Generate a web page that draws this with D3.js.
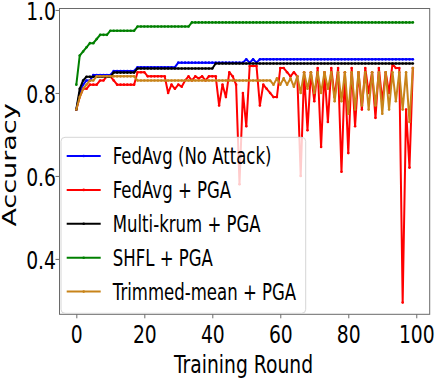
<!DOCTYPE html>
<html>
<head>
<meta charset="utf-8">
<script src="https://cdn.jsdelivr.net/npm/d3@7"></script>
<style>
  html, body { margin: 0; padding: 0; background: #fff; }
  svg { display: block; }
  text { font-family: "DejaVu Sans", sans-serif; fill: #000; }
</style>
</head>
<body>
<svg id="chart" width="436" height="381"></svg>
<script>
// ---------------- data ----------------
const rounds = d3.range(0, 100);

const seriesNames = ["FedAvg (No Attack)", "FedAvg + PGA", "Multi-krum + PGA", "SHFL + PGA", "Trimmed-mean + PGA"];
const seriesColors = ["#0000ff", "#ff0000", "#000000", "#008000", "#c8841a"];

const fedAvgNoAttack = [
  0.76, 0.80, 0.82, 0.83, 0.83, 0.843, 0.843, 0.843, 0.843, 0.843,
  0.843, 0.853, 0.853, 0.853, 0.853, 0.853, 0.853, 0.853, 0.862, 0.862,
  0.862, 0.862, 0.862, 0.862, 0.862, 0.862, 0.862, 0.862, 0.862, 0.862,
  0.873, 0.873, 0.873, 0.873, 0.873, 0.873, 0.873, 0.873, 0.873, 0.873,
  0.873, 0.873, 0.873, 0.873, 0.873, 0.873, 0.873, 0.873, 0.873, 0.873,
  0.881, 0.873, 0.881, 0.873, 0.881, 0.881, 0.881, 0.881, 0.881, 0.881,
  0.881, 0.881, 0.881, 0.881, 0.881, 0.881, 0.881, 0.881, 0.881, 0.881,
  0.881, 0.881, 0.881, 0.881, 0.881, 0.881, 0.881, 0.881, 0.881, 0.881,
  0.881, 0.881, 0.881, 0.881, 0.881, 0.881, 0.881, 0.881, 0.881, 0.881,
  0.881, 0.881, 0.881, 0.881, 0.881, 0.881, 0.881, 0.881, 0.881, 0.881
];

const fedAvgPGA = [
  0.76, 0.79, 0.81, 0.81, 0.82, 0.82, 0.82, 0.83, 0.83, 0.84,
  0.84, 0.83, 0.82, 0.82, 0.82, 0.82, 0.82, 0.82, 0.85, 0.85,
  0.85, 0.84, 0.84, 0.84, 0.84, 0.84, 0.84, 0.80, 0.82, 0.81,
  0.82, 0.815, 0.83, 0.84, 0.83, 0.84, 0.835, 0.84, 0.83, 0.84,
  0.84, 0.84, 0.77, 0.82, 0.79, 0.85, 0.84, 0.82, 0.58, 0.80,
  0.72, 0.865, 0.865, 0.865, 0.77, 0.82, 0.81, 0.80, 0.79, 0.79,
  0.86, 0.86, 0.85, 0.84, 0.85, 0.84, 0.60, 0.85, 0.71, 0.85,
  0.78, 0.86, 0.67, 0.85, 0.73, 0.86, 0.79, 0.86, 0.61, 0.85,
  0.655, 0.86, 0.72, 0.85, 0.76, 0.86, 0.80, 0.85, 0.74, 0.86,
  0.78, 0.85, 0.80, 0.87, 0.86, 0.86, 0.295, 0.76, 0.62, 0.86
];

const multiKrumPGA = [
  0.76, 0.81, 0.83, 0.839, 0.839, 0.839, 0.839, 0.839, 0.839, 0.839,
  0.839, 0.849, 0.849, 0.849, 0.849, 0.849, 0.849, 0.849, 0.859, 0.859,
  0.859, 0.859, 0.859, 0.859, 0.859, 0.859, 0.859, 0.859, 0.859, 0.859,
  0.859, 0.859, 0.859, 0.859, 0.859, 0.859, 0.859, 0.859, 0.859, 0.859,
  0.859, 0.871, 0.871, 0.871, 0.871, 0.871, 0.871, 0.871, 0.871, 0.871,
  0.871, 0.871, 0.871, 0.871, 0.871, 0.871, 0.871, 0.871, 0.871, 0.871,
  0.871, 0.871, 0.871, 0.871, 0.871, 0.871, 0.871, 0.871, 0.871, 0.871,
  0.871, 0.871, 0.871, 0.871, 0.871, 0.871, 0.871, 0.871, 0.871, 0.871,
  0.871, 0.871, 0.871, 0.871, 0.871, 0.871, 0.871, 0.871, 0.871, 0.871,
  0.871, 0.871, 0.871, 0.871, 0.871, 0.871, 0.871, 0.871, 0.871, 0.871
];

const shflPGA = [
  0.82, 0.89, 0.90, 0.91, 0.92, 0.92, 0.93, 0.94, 0.94, 0.94,
  0.95, 0.95, 0.95, 0.95, 0.95, 0.95, 0.95, 0.95, 0.96, 0.96,
  0.96, 0.96, 0.96, 0.96, 0.96, 0.96, 0.96, 0.96, 0.96, 0.96,
  0.96, 0.96, 0.96, 0.96, 0.97, 0.97, 0.97, 0.97, 0.97, 0.97,
  0.97, 0.97, 0.97, 0.97, 0.97, 0.97, 0.97, 0.97, 0.97, 0.97,
  0.97, 0.97, 0.97, 0.97, 0.97, 0.97, 0.97, 0.97, 0.97, 0.97,
  0.97, 0.97, 0.97, 0.97, 0.97, 0.97, 0.97, 0.97, 0.97, 0.97,
  0.97, 0.97, 0.97, 0.97, 0.97, 0.97, 0.97, 0.97, 0.97, 0.97,
  0.97, 0.97, 0.97, 0.97, 0.97, 0.97, 0.97, 0.97, 0.97, 0.97,
  0.97, 0.97, 0.97, 0.97, 0.97, 0.97, 0.97, 0.97, 0.97, 0.97
];

const trimmedMeanPGA = [
  0.76, 0.79, 0.81, 0.82, 0.83, 0.83, 0.84, 0.84, 0.84, 0.84,
  0.84, 0.84, 0.84, 0.84, 0.84, 0.84, 0.84, 0.84, 0.83, 0.83,
  0.83, 0.83, 0.83, 0.83, 0.83, 0.83, 0.83, 0.83, 0.83, 0.83,
  0.83, 0.83, 0.83, 0.83, 0.83, 0.83, 0.83, 0.83, 0.83, 0.83,
  0.83, 0.83, 0.83, 0.83, 0.83, 0.83, 0.83, 0.83, 0.83, 0.83,
  0.83, 0.83, 0.83, 0.83, 0.83, 0.83, 0.83, 0.83, 0.82, 0.835,
  0.82, 0.835, 0.82, 0.835, 0.815, 0.84, 0.80, 0.85, 0.81, 0.85,
  0.80, 0.85, 0.80, 0.85, 0.81, 0.85, 0.78, 0.85, 0.78, 0.85,
  0.75, 0.85, 0.76, 0.85, 0.77, 0.85, 0.76, 0.85, 0.77, 0.85,
  0.75, 0.85, 0.76, 0.85, 0.78, 0.85, 0.76, 0.85, 0.73, 0.86
];

const xTicks = [0, 20, 40, 60, 80, 100];
const yTicks = [0.4, 0.6, 0.8, 1.0];
const xLabel = "Training Round";
const yLabel = "Accuracy";

// ---------------- layout ----------------
const svg = d3.select("#chart");
const plot = { left: 59.5, right: 429.7, top: 8.5, bottom: 314.3 };
const SX = 0.75;          // horizontal text compression of the reference
const axisColor = "#6a6a6a";

const x = d3.scaleLinear().domain([-4.95, 103.95]).range([plot.left, plot.right]);
const y = d3.scaleLinear().domain([0.2665, 1.0035]).range([plot.bottom, plot.top]);

const allSeries = [fedAvgNoAttack, fedAvgPGA, multiKrumPGA, shflPGA, trimmedMeanPGA];

// axes
const gx = svg.append("g").attr("transform", `translate(0,${plot.bottom})`)
  .call(d3.axisBottom(x).tickValues(xTicks).tickSize(4).tickFormat(d3.format("d")));
const gy = svg.append("g").attr("transform", `translate(${plot.left},0)`)
  .call(d3.axisLeft(y).tickValues(yTicks).tickSize(4).tickFormat(d3.format(".1f")));
[gx, gy].forEach(g => {
  g.select(".domain").remove();
  g.selectAll(".tick line").attr("stroke", axisColor).attr("stroke-width", 1);
  g.selectAll(".tick text").attr("font-size", 25).attr("fill", "#000")
    .attr("font-family", "DejaVu Sans, sans-serif");
});
gx.selectAll(".tick text").attr("y", 0).attr("dy", 0).attr("text-anchor", "middle")
  .attr("transform", `translate(0,29) scale(${SX},1)`);
gy.selectAll(".tick text").attr("x", 0).attr("dy", 0).attr("text-anchor", "end")
  .attr("transform", `translate(-3.5,9.5) scale(${SX},1)`);

// lines
const line = d3.line().x((d, i) => x(rounds[i])).y(d => y(d));
allSeries.forEach((s, k) => {
  const g = svg.append("g");
  g.append("path").datum(s).attr("d", line).attr("fill", "none")
    .attr("stroke", seriesColors[k]).attr("stroke-width", 2).attr("stroke-linejoin", "round");
  g.selectAll("circle").data(s).join("circle")
    .attr("cx", (d, i) => x(rounds[i])).attr("cy", d => y(d)).attr("r", 1.3)
    .attr("fill", seriesColors[k]);
});

// frame
svg.append("rect").attr("x", plot.left).attr("y", plot.top)
  .attr("width", plot.right - plot.left).attr("height", plot.bottom - plot.top)
  .attr("fill", "none").attr("stroke", axisColor).attr("stroke-width", 1);

// axis labels
svg.append("text").text(xLabel).attr("font-size", 25).attr("text-anchor", "middle")
  .attr("transform", `translate(243.5,372.5) scale(${SX},1)`);
svg.append("text").text(yLabel).attr("font-size", 27).attr("text-anchor", "middle")
  .attr("transform", `translate(15.5,165) scale(${SX},1) rotate(-90)`);

// legend
const leg = svg.append("g");
leg.append("rect").attr("x", 61).attr("y", 137.3).attr("width", 244.7).attr("height", 176)
  .attr("rx", 4).attr("fill", "#fff").attr("fill-opacity", 0.8)
  .attr("stroke", "#d6d6d6").attr("stroke-width", 1);
seriesNames.forEach((name, k) => {
  const ly = 156 + k * 33.9;
  leg.append("line").attr("x1", 66.7).attr("x2", 100.7).attr("y1", ly).attr("y2", ly)
    .attr("stroke", seriesColors[k]).attr("stroke-width", 2);
  leg.append("circle").attr("cx", 83.7).attr("cy", ly).attr("r", 1.3).attr("fill", seriesColors[k]);
  leg.append("text").text(name).attr("font-size", 23)
    .attr("transform", `translate(112.7,${ly + 8.3}) scale(0.72,1)`);
});
</script>
</body>
</html>
